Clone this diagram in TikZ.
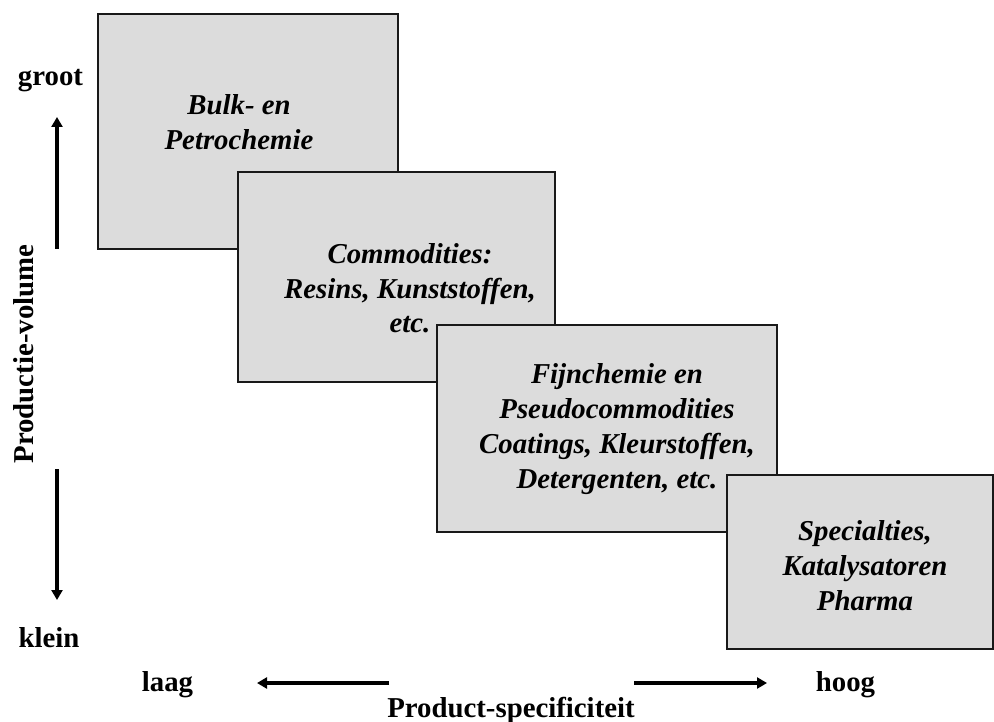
\documentclass[tikz,border=0pt]{standalone}
\usepackage{fontspec}
\setmainfont{Liberation Serif}
\usetikzlibrary{arrows.meta}
\definecolor{boxfill}{RGB}{220,220,220}
\definecolor{boxline}{RGB}{25,25,25}
\begin{document}
\begin{tikzpicture}[x=1pt,y=-1pt,
  areabox/.style={draw=boxline, line width=1.6pt, fill=boxfill, rectangle, anchor=north west, inner sep=0pt, outer sep=0pt},
  boxtext/.style={anchor=base, align=center, inner sep=0pt, font={\fontsize{28.8}{35}\selectfont\bfseries\itshape}},
  axlabel/.style={anchor=base, inner sep=0pt, font={\fontsize{28.8}{35}\selectfont\bfseries}},
  axarrow/.style={line width=3.6pt, -{Triangle[length=10pt,width=11pt]}}
]
\useasboundingbox (0,0) rectangle (994,722);

\node[areabox, minimum width=300pt, minimum height=235pt] (b1) at (98,14) {};
\node[boxtext] (t1) at (239,150) {Bulk- en\\Petrochemie};

\node[areabox, minimum width=317pt, minimum height=210pt] (b2) at (238,172) {};
\node[boxtext] (t2) at (410,333) {Commodities:\\Resins, Kunststoffen,\\etc.};

\node[areabox, minimum width=340pt, minimum height=207pt] (b3) at (437,325) {};
\node[boxtext] (t3) at (617,488) {Fijnchemie en\\Pseudocommodities\\Coatings, Kleurstoffen,\\Detergenten, etc.};

\node[areabox, minimum width=266pt, minimum height=174pt] (b4) at (727,475) {};
\node[boxtext] (t4) at (865,610) {Specialties,\\Katalysatoren\\Pharma};

\node[axlabel] (groot) at (50.5,86) {groot};
\node[axlabel] (klein) at (49,647) {klein};
\node[axlabel] (laag) at (167.5,691) {laag};
\node[axlabel] (hoog) at (845.5,691) {hoog};
\node[axlabel] (xlab) at (511,717) {Product-specificiteit};
\node[axlabel, rotate=90] (ylab) at (33,354) {Productie-volume};

\coordinate (upS) at (57,249);
\coordinate (upE) at (57,117);
\coordinate (dnS) at (57,469);
\coordinate (dnE) at (57,600);
\coordinate (lfS) at (389,683);
\coordinate (lfE) at (257,683);
\coordinate (rtS) at (634,683);
\coordinate (rtE) at (767,683);

\draw[axarrow] (upS) -- (upE);
\draw[axarrow] (dnS) -- (dnE);
\draw[axarrow] (lfS) -- (lfE);
\draw[axarrow] (rtS) -- (rtE);
\end{tikzpicture}
\end{document}
